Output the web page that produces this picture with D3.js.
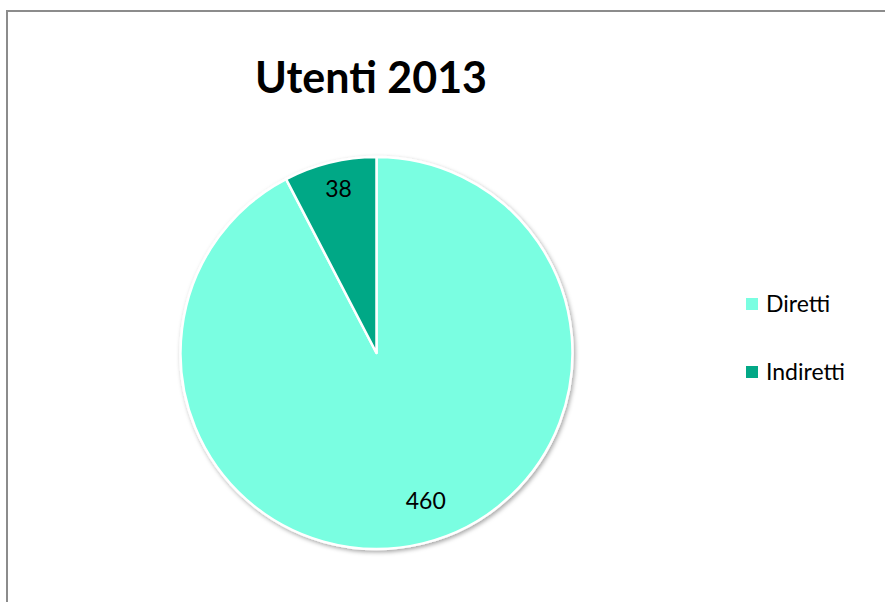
<!DOCTYPE html>
<html><head><meta charset="utf-8">
<script src="https://cdn.jsdelivr.net/npm/d3@7"></script>
<style>body{margin:0;background:#fff;font-family:Lato,"Open Sans",sans-serif;}</style>
</head><body>
<script>
const title = "Utenti 2013";
const categories = ["Diretti", "Indiretti"];
const values = [460, 38];
const colors = ["#7afee1", "#02a886"];

const W = 885, H = 602;
const svg = d3.select("body").append("svg").attr("width", W).attr("height", H);

const defs = svg.append("defs");
const f = defs.append("filter").attr("id","sh").attr("x","-10%").attr("y","-10%").attr("width","130%").attr("height","130%");
f.append("feDropShadow").attr("dx",1.5).attr("dy",2).attr("stdDeviation",2).attr("flood-color","#000").attr("flood-opacity",0.35);

// border
svg.append("rect").attr("x",7).attr("y",11).attr("width",W+10).attr("height",H+10)
  .attr("fill","none").attr("stroke","#8c8c8c").attr("stroke-width",2);

svg.append("text").attr("x",371).attr("y",93).attr("text-anchor","middle")
  .attr("font-size",43).attr("font-weight","bold").attr("fill","#000").text(title);

const cx = 376.5, cy = 353, r = 196;
const pie = d3.pie().sort(null).value(d => d);
const arcs = pie(values);
const arc = d3.arc().innerRadius(0).outerRadius(r);
const g = svg.append("g").attr("transform",`translate(${cx},${cy})`);
g.append("g").attr("filter","url(#sh)").selectAll("path").data(arcs).join("path")
  .attr("d", arc).attr("fill",(d,i)=>colors[i]).attr("stroke","#fff").attr("stroke-width",2.5).attr("stroke-linejoin","round");

const labelArcs = [d3.arc().innerRadius(r*0.8).outerRadius(r*0.8), d3.arc().innerRadius(r*0.86).outerRadius(r*0.86)];
g.selectAll("text.lbl").data(arcs).join("text").attr("class","lbl")
  .attr("transform",(d,i)=>{const c=labelArcs[i].centroid(d); return `translate(${i===0?c[0]+12:c[0]+2},${i===0?c[1]-4:c[1]})`;})
  .attr("text-anchor","middle").attr("dy","0.35em").attr("font-size",23).attr("fill","#000")
  .text(d=>d.data);

const leg = svg.append("g").attr("transform","translate(746,304)");
const li = leg.selectAll("g").data(categories).join("g").attr("transform",(d,i)=>`translate(0,${i*68})`);
li.append("rect").attr("x",0).attr("y",-6).attr("width",12).attr("height",12).attr("fill",(d,i)=>colors[i]);
li.append("text").attr("x",20).attr("dy","0.35em").attr("font-size",23).attr("fill","#000").text(d=>d);
</script>
</body></html>
